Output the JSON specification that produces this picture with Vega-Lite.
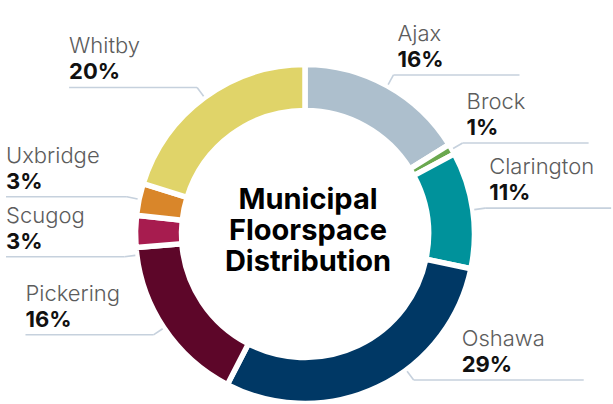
{
  "$schema": "https://vega.github.io/schema/vega-lite/v6.json",
  "width": 610,
  "height": 336,
  "autosize": {"type": "none"},
  "padding": {"left": 0, "top": 66, "right": 3, "bottom": 2},
  "background": "white",
  "config": {"view": {"stroke": null}, "font": "Inter"},
  "datasets": {
    "shares": [
      {"name": "Ajax", "value": 16},
      {"name": "Brock", "value": 1},
      {"name": "Clarington", "value": 11},
      {"name": "Oshawa", "value": 29},
      {"name": "Pickering", "value": 16},
      {"name": "Scugog", "value": 3},
      {"name": "Uxbridge", "value": 3},
      {"name": "Whitby", "value": 20}
    ],
    "title": [{"label": "Municipal Floorspace Distribution"}]
  },
  "data": {"name": "shares"},
  "layer": [
    {
      "mark": {"type": "arc", "outerRadius": 169.5, "innerRadius": 123.5, "stroke": "white", "strokeWidth": 5.5},
      "encoding": {
        "theta": {"field": "value", "type": "quantitative", "stack": true},
        "order": {"field": "name", "sort": "ascending"},
        "color": {
          "field": "name",
          "type": "nominal",
          "legend": null,
          "scale": {
            "domain": ["Ajax", "Brock", "Clarington", "Oshawa", "Pickering", "Scugog", "Uxbridge", "Whitby"],
            "range": ["#adbfcd", "#6aa84f", "#00929b", "#003865", "#5d0629", "#a71c4f", "#d9862a", "#e0d469"]
          }
        }
      }
    },
    {
      "transform": [
        {"joinaggregate": [{"op": "sum", "field": "value", "as": "total"}]},
        {"window": [{"op": "sum", "field": "value", "as": "cum"}], "sort": [{"field": "name", "order": "ascending"}], "frame": [null, 0]},
        {"calculate": "(datum.cum - datum.value/2)/datum.total*2*PI", "as": "mid"},
        {"calculate": "sin(datum.mid) >= 0 ? 1 : -1", "as": "side"},
        {"calculate": "-182*cos(datum.mid)", "as": "yraw"},
        {"window": [{"op": "row_number", "as": "rank"}], "groupby": ["side"], "sort": [{"field": "yraw", "order": "ascending"}]},
        {"calculate": "datum.yraw - 60*datum.rank", "as": "adj"},
        {"window": [{"op": "max", "field": "adj", "as": "cmax"}], "groupby": ["side"], "sort": [{"field": "yraw", "order": "ascending"}], "frame": [null, 0]},
        {"calculate": "min(datum.cmax + 60*datum.rank, 146)", "as": "yl"},
        {"calculate": "datum.side*sqrt(max(0, 182*182 - datum.yl*datum.yl))", "as": "ex"},
        {"calculate": "datum.ex*171/182", "as": "sx"},
        {"calculate": "datum.yl*171/182", "as": "sy"},
        {"calculate": "datum.yl - 50", "as": "yt"},
        {"calculate": "datum.side > 0 ? max(datum.ex + 4, datum.yt > 0 ? sqrt(max(0, 172*172 - datum.yt*datum.yt)) + 14 : 0) : max(datum.ex - 128, -299)", "as": "tx"},
        {"calculate": "datum.side > 0 ? datum.tx + 122 : datum.tx", "as": "xe"},
        {"calculate": "datum.yl - 34", "as": "yn"},
        {"calculate": "datum.yl - 8", "as": "yp"},
        {"calculate": "datum.value + '%'", "as": "pct"}
      ],
      "layer": [
        {
          "mark": {"type": "rule", "color": "#c6d1dd", "strokeWidth": 1.6},
          "encoding": {
            "x": {"field": "sx", "type": "quantitative", "axis": null, "scale": {"domain": [-305, 305], "nice": false, "zero": false}},
            "y": {"field": "sy", "type": "quantitative", "axis": null, "scale": {"domain": [-168, 168], "nice": false, "zero": false, "reverse": true}},
            "x2": {"field": "ex"},
            "y2": {"field": "yl"}
          }
        },
        {
          "mark": {"type": "rule", "color": "#c6d1dd", "strokeWidth": 1.6},
          "encoding": {
            "x": {"field": "ex", "type": "quantitative", "axis": null, "scale": {"domain": [-305, 305], "nice": false, "zero": false}},
            "y": {"field": "yl", "type": "quantitative", "axis": null, "scale": {"domain": [-168, 168], "nice": false, "zero": false, "reverse": true}},
            "x2": {"field": "xe"}
          }
        },
        {
          "mark": {"type": "text", "align": "left", "baseline": "alphabetic", "fontSize": 22, "fontWeight": 300, "color": "#5c5c5c"},
          "encoding": {
            "x": {"field": "tx", "type": "quantitative", "axis": null, "scale": {"domain": [-305, 305], "nice": false, "zero": false}},
            "y": {"field": "yn", "type": "quantitative", "axis": null, "scale": {"domain": [-168, 168], "nice": false, "zero": false, "reverse": true}},
            "text": {"field": "name"}
          }
        },
        {
          "mark": {"type": "text", "align": "left", "baseline": "alphabetic", "fontSize": 22, "fontWeight": "bold", "color": "#111111"},
          "encoding": {
            "x": {"field": "tx", "type": "quantitative", "axis": null, "scale": {"domain": [-305, 305], "nice": false, "zero": false}},
            "y": {"field": "yp", "type": "quantitative", "axis": null, "scale": {"domain": [-168, 168], "nice": false, "zero": false, "reverse": true}},
            "text": {"field": "pct"}
          }
        }
      ]
    },
    {
      "data": {"name": "title"},
      "transform": [{"calculate": "split(datum.label, ' ')", "as": "lines"}],
      "mark": {"type": "text", "align": "center", "baseline": "middle", "fontSize": 29, "fontWeight": "bold", "lineHeight": 31, "color": "#000000"},
      "encoding": {
        "text": {"field": "lines"},
        "x": {"datum": 3, "type": "quantitative", "axis": null, "scale": {"domain": [-305, 305], "nice": false, "zero": false}},
        "y": {"datum": -34, "type": "quantitative", "axis": null, "scale": {"domain": [-168, 168], "nice": false, "zero": false, "reverse": true}}
      }
    }
  ]
}
